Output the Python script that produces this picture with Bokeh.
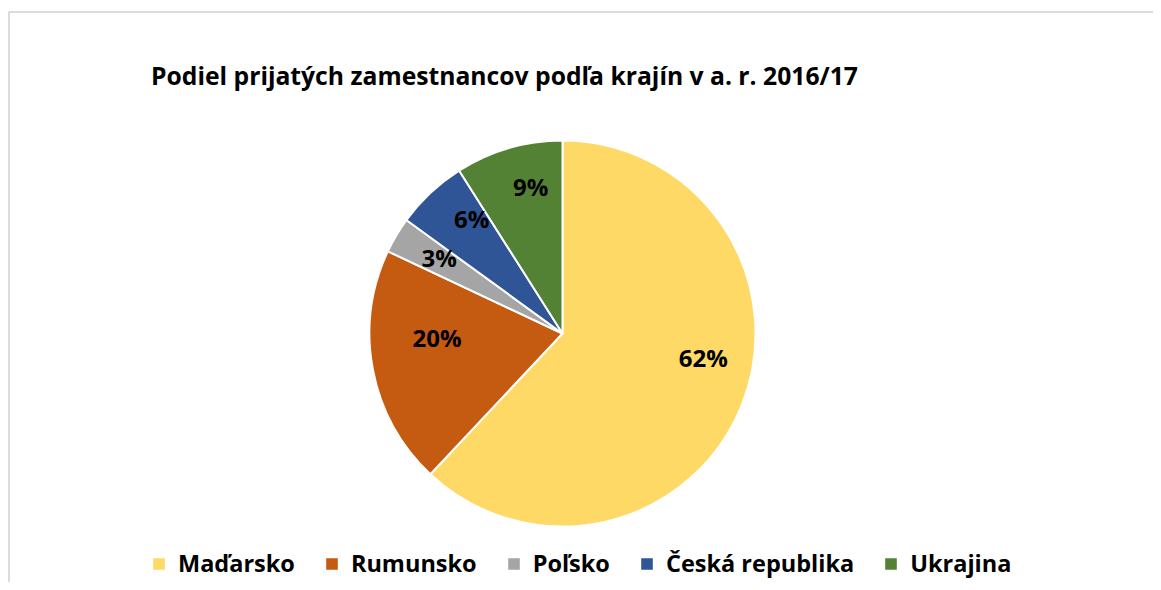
import math
from bokeh.plotting import figure
from bokeh.models import ColumnDataSource, Range1d, Legend, LegendItem
from bokeh.core.properties import value
from bokeh.embed import file_html
from bokeh.resources import INLINE

# ---- data ----
countries = ["Maďarsko", "Rumunsko", "Poľsko", "Česká republika", "Ukrajina"]
shares = [62, 20, 3, 6, 9]
colors = ["#FFD966", "#C55A11", "#A5A5A5", "#2F5597", "#548235"]
title_text = "Podiel prijatých zamestnancov podľa krajín v a. r. 2016/17"

# ---- layout (pixels) ----
W, H = 1153, 582
CX, CY, R = 562, 249, 193
FONT = "Open Sans"
label_shift_deg = [12, -9, -1, -5, -4]   # small nudges like Excel best-fit
label_r_frac = [0.74, 0.65, 0.75, 0.76, 0.78]

total = float(sum(shares))
starts, ends, lx, ly, labels = [], [], [], [], []
cum = 0.0
for i, s in enumerate(shares):
    a0 = math.pi / 2 - 2 * math.pi * cum / total
    cum += s
    a1 = math.pi / 2 - 2 * math.pi * cum / total
    starts.append(a0)
    ends.append(a1)
    mid = (a0 + a1) / 2 + math.radians(label_shift_deg[i])
    lx.append(CX + label_r_frac[i] * R * math.cos(mid))
    ly.append(CY + label_r_frac[i] * R * math.sin(mid))
    labels.append(f"{s}%")

src = ColumnDataSource(dict(country=countries, share=shares, color=colors,
                            start=starts, end=ends, lx=lx, ly=ly, label=labels))

p = figure(width=W, height=H, output_backend="svg", toolbar_location=None,
           x_range=Range1d(0, W), y_range=Range1d(0, H),
           x_axis_type=None, y_axis_type=None, min_border=0,
           outline_line_color=None)
p.grid.visible = False
p.background_fill_color = "white"
p.border_fill_color = "white"

# chart-area border (left and top edges visible in the reference)
p.line(x=[8.5, 8.5, W], y=[0, H - 11.5, H - 11.5], line_color="#D0D0D0", line_width=1.5)

wr = p.wedge(x=CX, y=CY, radius=R, start_angle="start", end_angle="end",
             direction="clock", fill_color="color", line_color="white",
             line_width=2, source=src)

p.text(x="lx", y="ly", text="label", source=src, text_align="center",
       text_baseline="middle", text_font=value(FONT), text_font_style="bold",
       text_font_size="24px", text_color="black")

p.text(x=[504], y=[H - 75], text=[title_text], text_align="center",
       text_baseline="middle", text_font=value(FONT), text_font_style="bold",
       text_font_size="24.7px", text_color="black")

items = [LegendItem(label=c, renderers=[wr], index=i) for i, c in enumerate(countries)]
legend = Legend(items=items, orientation="horizontal", location=(150, 3),
                padding=0, margin=0, spacing=28, label_standoff=11,
                glyph_width=17, glyph_height=17, label_height=24,
                border_line_alpha=0, background_fill_alpha=0,
                label_text_font=FONT, label_text_font_style="bold",
                label_text_font_size="23.5px", label_text_color="black")
p.add_layout(legend, "center")

open("out.html", "w").write(file_html(p, INLINE))
